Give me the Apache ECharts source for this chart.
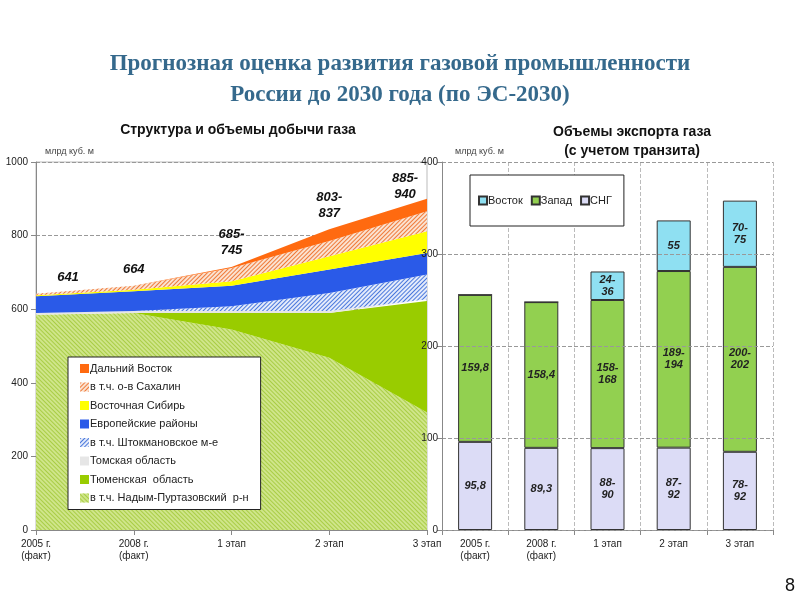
<!DOCTYPE html>
<html>
<head>
<meta charset="utf-8">
<script src="https://cdn.jsdelivr.net/npm/echarts@6/dist/echarts.min.js"></script>
<style>
  html, body { margin: 0; padding: 0; background: #fff; }
  #container { width: 800px; height: 600px; }
</style>
</head>
<body>
<div id="container"></div>
<script>
// --- left chart: production (cumulative layers, mlrd m3)
var stages = ['2005 г.\n(факт)', '2008 г.\n(факт)', '1 этап', '2 этап', '3 этап'];
var nadym = [585, 590, 545, 468, 319];
var tyumenRest = [0, 0, 45, 122, 303];
var tomsk = [5, 5, 5, 5, 5];
var shtokman = [0, 0, 13, 49, 67];
var europe = [45, 54, 56, 64, 59];
var eastSiberia = [3, 4, 12, 36, 59];
var sakhalin = [4, 11, 36, 41, 54];
var farEastRest = [0, 0, 3, 32, 34];
var prodTotals = ['641', '664', '685-\n745', '803-\n837', '885-\n940'];

// --- right chart: export (mlrd m3)
var cis = [95.8, 89.3, 89, 89.5, 85];
var west = [159.8, 158.4, 161, 192, 201];
var east = [0, 0, 31, 55, 72];
var cisLabels = ['95,8', '89,3', '88-\n90', '87-\n92', '78-\n92'];
var westLabels = ['159,8', '158,4', '158-\n168', '189-\n194', '200-\n202'];
var eastLabels = ['', '', '24-\n36', '55', '70-\n75'];
var exportTotals = ['255,6', '247,5', '270-294', '332-341', '349-368'];

var dom = document.getElementById('container');
var myChart = echarts.init(dom, null, { renderer: 'canvas' });

function hatch(color, rot) {
  return { symbol: 'rect', color: color, dashArrayX: [1, 0], dashArrayY: [1, 2], rotation: rot, symbolSize: 1 };
}

function area(name, data, color, decal) {
  var s = {
    name: name, type: 'line', stack: 'prod', data: data,
    xAxisIndex: 0, yAxisIndex: 0,
    symbol: 'none', lineStyle: { width: 0 },
    areaStyle: { color: color, opacity: 1 },
    itemStyle: { color: color },
    emphasis: { disabled: true }
  };
  if (decal) { s.itemStyle.decal = decal; s.areaStyle.decal = decal; }
  return s;
}

var totalOffsets = [[32, 0], [0, 0], [0, 0], [0, 0], [-22, 12]];

var farEast = area('Дальний Восток', farEastRest, '#ff6a10');
farEast.symbol = 'circle';
farEast.symbolSize = 0.1;
farEast.showSymbol = true;
farEast.label = {
  show: true, position: 'top', distance: 8,
  fontFamily: 'Liberation Sans', fontSize: 13, fontWeight: 'bold', fontStyle: 'italic', color: '#111', lineHeight: 16,
  formatter: function (p) { return prodTotals[p.dataIndex]; }
};
farEast.data = farEastRest.map(function (v, i) {
  return { value: v, label: { offset: totalOffsets[i] } };
});

function bar(name, data, color, labels) {
  return {
    name: name, type: 'bar', stack: 'exp', data: data, xAxisIndex: 1, yAxisIndex: 1,
    barWidth: 34,
    itemStyle: { color: color, borderColor: '#333', borderWidth: 1 },
    label: {
      show: true, position: 'inside', fontFamily: 'Liberation Sans', fontSize: 11,
      fontWeight: 'bold', fontStyle: 'italic', color: '#222', lineHeight: 12,
      formatter: function (p) { return labels[p.dataIndex]; }
    }
  };
}

var tops = cis.map(function (v, i) { return v + west[i] + east[i]; });
var plain = function (v) { return String(v); };

option = {
  backgroundColor: '#fff',
  title: [
    { text: 'Прогнозная оценка развития газовой промышленности\nРоссии до 2030 года (по ЭС-2030)', left: 395, top: 44, textAlign: 'center',
      textStyle: { fontFamily: 'Liberation Serif', fontSize: 23, fontWeight: 'bold', color: '#35698c', lineHeight: 31 } },
    { text: 'Структура и объемы добычи газа', left: 233, top: 118, textAlign: 'center',
      textStyle: { fontFamily: 'Liberation Sans', fontSize: 14, fontWeight: 'bold', color: '#111' } },
    { text: 'Объемы экспорта газа\n(с учетом транзита)', left: 627, top: 118, textAlign: 'center',
      textStyle: { fontFamily: 'Liberation Sans', fontSize: 14, fontWeight: 'bold', color: '#111', lineHeight: 19 } },
    { text: 'млрд куб. м', left: 40, top: 142, textStyle: { fontFamily: 'Liberation Sans', fontSize: 9, fontWeight: 'normal', color: '#444' } },
    { text: 'млрд куб. м', left: 450, top: 142, textStyle: { fontFamily: 'Liberation Sans', fontSize: 9, fontWeight: 'normal', color: '#444' } },
    { text: '8', left: 780, top: 572, textStyle: { fontFamily: 'Liberation Sans', fontSize: 18, fontWeight: 'normal', color: '#111' } }
  ],
  legend: [
    {
      data: ['Дальний Восток', 'в т.ч. о-в Сахалин', 'Восточная Сибирь', 'Европейские районы', 'в т.ч. Штокмановское м-е',
             'Томская область', 'Тюменская  область', 'в т.ч. Надым-Пуртазовский  р-н'],
      orient: 'vertical', left: 68, top: 357, icon: 'rect',
      padding: [6, 12, 6, 12], itemGap: 7.5, itemWidth: 9, itemHeight: 9,
      backgroundColor: '#fff', borderColor: '#222', borderWidth: 1,
      textStyle: { fontFamily: 'Liberation Sans', fontSize: 11, color: '#222', padding: [0, 0, 0, -4] }
    },
    {
      data: ['Восток', 'Запад', 'СНГ'], icon: 'rect',
      left: 470, top: 175, padding: [20, 12, 20, 8], itemGap: 8, itemWidth: 8, itemHeight: 8,
      backgroundColor: '#fff', borderColor: '#222', borderWidth: 1,
      textStyle: { fontFamily: 'Liberation Sans', fontSize: 11, color: '#222', padding: [0, 0, 0, -4] }
    }
  ],
  grid: [
    { left: 36, top: 162, width: 391, height: 368, show: true, borderColor: '#bbb', backgroundColor: 'transparent' },
    { left: 442, top: 162, width: 331, height: 368 }
  ],
  xAxis: [
    { type: 'category', gridIndex: 0, data: stages, boundaryGap: false,
      axisLine: { lineStyle: { color: '#888' } }, axisTick: { show: true, lineStyle: { color: '#888' } },
      axisLabel: { fontFamily: 'Liberation Sans', fontSize: 10, color: '#222', lineHeight: 12 },
      splitLine: { show: false } },
    { type: 'category', gridIndex: 1, data: stages,
      axisLine: { lineStyle: { color: '#888' } }, axisTick: { show: true, lineStyle: { color: '#888' } },
      axisLabel: { fontFamily: 'Liberation Sans', fontSize: 10, color: '#222', lineHeight: 12 },
      splitLine: { show: true, lineStyle: { color: '#bbb', type: 'dashed' } } }
  ],
  yAxis: [
    { type: 'value', gridIndex: 0, min: 0, max: 1000, interval: 200,
      axisLine: { show: true, lineStyle: { color: '#888' } }, axisTick: { show: true },
      axisLabel: { fontFamily: 'Liberation Sans', fontSize: 10, color: '#222', formatter: plain },
      splitLine: { lineStyle: { color: '#999', type: 'dashed' } } },
    { type: 'value', gridIndex: 1, min: 0, max: 400, interval: 100, z: 10,
      axisLine: { show: true, lineStyle: { color: '#888' } }, axisTick: { show: true },
      axisLabel: { fontFamily: 'Liberation Sans', fontSize: 10, color: '#222', margin: 4, formatter: plain },
      splitLine: { lineStyle: { color: '#999', type: 'dashed' } } }
  ],
  series: [
    area('в т.ч. Надым-Пуртазовский  р-н', nadym, '#cfe58a', hatch('#a9cd45', Math.PI / 4)),
    area('Тюменская  область', tyumenRest, '#99cc00'),
    area('Томская область', tomsk, '#e6e6e6'),
    area('в т.ч. Штокмановское м-е', shtokman, '#e4ebfb', hatch('#4a78dc', -Math.PI / 4)),
    area('Европейские районы', europe, '#2a5ae8'),
    area('Восточная Сибирь', eastSiberia, '#ffff00'),
    area('в т.ч. о-в Сахалин', sakhalin, '#fbe2d0', hatch('#ef7a3a', -Math.PI / 4)),
    farEast,
    bar('СНГ', cis, '#dcdcf6', cisLabels),
    bar('Запад', west, '#92d050', westLabels),
    bar('Восток', east, '#8fe0f2', eastLabels),
    {
      name: 'totals', type: 'scatter', xAxisIndex: 1, yAxisIndex: 1, data: tops,
      symbolSize: 1, silent: true, itemStyle: { opacity: 0 },
      label: {
        show: true, position: 'top', distance: 10,
        fontFamily: 'Liberation Sans', fontSize: 11, fontWeight: 'bold', fontStyle: 'italic', color: '#e02020',
        formatter: function (p) { return exportTotals[p.dataIndex]; }
      }
    }
  ]
};

myChart.setOption(option);
window.addEventListener('resize', myChart.resize);
</script>
</body>
</html>
